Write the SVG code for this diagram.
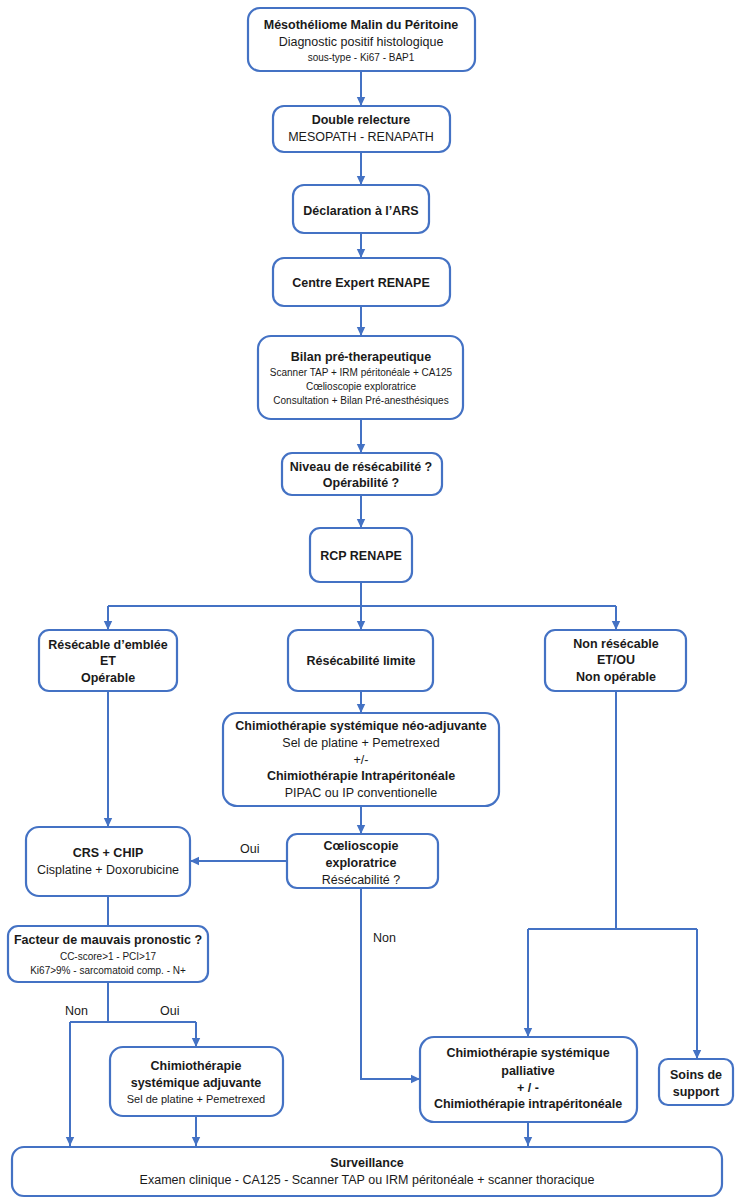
<svg xmlns="http://www.w3.org/2000/svg" width="740" height="1200" viewBox="0 0 740 1200">
<style>
.box{fill:#ffffff;stroke:#4472C4;stroke-width:2.2}
.c{fill:none;stroke:#4472C4;stroke-width:2}
.a{marker-end:url(#arr)}
text{font-family:"Liberation Sans",Arial,sans-serif;fill:#1a1a1a;text-anchor:middle;dominant-baseline:central}
.b{font-size:12.5px;font-weight:bold}
.r{font-size:12.5px}
.s{font-size:10px}
.m{font-size:11px}
.l{font-size:12.5px;text-anchor:start}
</style>
<defs>
<marker id="arr" markerWidth="10" markerHeight="10" refX="9" refY="5" orient="auto" markerUnits="userSpaceOnUse">
<path d="M0,0.8 L9,5 L0,9.2 Z" fill="#4472C4"/>
</marker>
</defs>
<rect width="740" height="1200" fill="#ffffff"/>

<g id="connectors">
<path class="c a" d="M361,71 V106"/>
<path class="c a" d="M361,152 V185"/>
<path class="c a" d="M361,233 V258"/>
<path class="c a" d="M361,306 V336"/>
<path class="c a" d="M361,419 V453"/>
<path class="c a" d="M361,495 V528"/>
<path class="c a" d="M361,582 V630"/>
<path class="c" d="M108,606 H616"/>
<path class="c a" d="M108,606 V630"/>
<path class="c a" d="M616,606 V630"/>
<path class="c a" d="M108,691 V827"/>
<path class="c a" d="M361,691 V713"/>
<path class="c a" d="M361,806 V834"/>
<path class="c a" d="M287,861 H190"/>
<path class="c" d="M108,896 V926"/>
<path class="c" d="M108,982 V1022"/>
<path class="c" d="M70,1022 H196"/>
<path class="c a" d="M70,1022 V1146"/>
<path class="c a" d="M196,1022 V1047"/>
<path class="c a" d="M196,1116 V1146"/>
<path class="c a" d="M361,888 V1079 H420"/>
<path class="c" d="M616,691 V929"/>
<path class="c" d="M528,929 H697"/>
<path class="c a" d="M528,929 V1037"/>
<path class="c a" d="M697,929 V1059"/>
<path class="c a" d="M528,1122 V1146"/>
<text class="l" x="240" y="849">Oui</text>
<text class="l" x="65" y="1011">Non</text>
<text class="l" x="160" y="1011">Oui</text>
<text class="l" x="373" y="938">Non</text>
</g>

<g id="n1">
<rect class="box" x="248" y="8" width="227" height="63" rx="12"/>
<text class="b" x="361" y="25">Mésothéliome Malin du Péritoine</text>
<text class="r" x="361" y="42">Diagnostic positif histologique</text>
<text class="s" x="361" y="57">sous-type - Ki67 - BAP1</text>
</g>
<g id="n2">
<rect class="box" x="273" y="106" width="177" height="46" rx="11"/>
<text class="b" x="361" y="120">Double relecture</text>
<text class="r" x="361" y="137">MESOPATH - RENAPATH</text>
</g>
<g id="n3">
<rect class="box" x="293" y="185" width="136" height="48" rx="11"/>
<text class="b" x="361" y="211">Déclaration à l’ARS</text>
</g>
<g id="n4">
<rect class="box" x="273" y="258" width="177" height="48" rx="11"/>
<text class="b" x="361" y="283">Centre Expert RENAPE</text>
</g>
<g id="n5">
<rect class="box" x="258" y="336" width="205" height="83" rx="13"/>
<text class="b" x="361" y="357">Bilan pré-therapeutique</text>
<text class="s" x="361" y="372">Scanner TAP + IRM péritonéale + CA125</text>
<text class="s" x="361" y="386">Cœlioscopie exploratrice</text>
<text class="s" x="361" y="400">Consultation + Bilan Pré-anesthésiques</text>
</g>
<g id="n6">
<rect class="box" x="282" y="453" width="160" height="42" rx="10"/>
<text class="b" x="361" y="467">Niveau de résécabilité ?</text>
<text class="b" x="361" y="483">Opérabilité ?</text>
</g>
<g id="n7">
<rect class="box" x="310" y="528" width="102" height="54" rx="10"/>
<text class="b" x="361" y="556">RCP RENAPE</text>
</g>
<g id="n8">
<rect class="box" x="39" y="630" width="138" height="61" rx="10"/>
<text class="b" x="108" y="645">Résécable d’emblée</text>
<text class="b" x="108" y="661">ET</text>
<text class="b" x="108" y="678">Opérable</text>
</g>
<g id="n9">
<rect class="box" x="288" y="630" width="145" height="61" rx="10"/>
<text class="b" x="361" y="661">Résécabilité limite</text>
</g>
<g id="n10">
<rect class="box" x="545" y="630" width="141" height="61" rx="10"/>
<text class="b" x="616" y="644">Non résécable</text>
<text class="b" x="616" y="660">ET/OU</text>
<text class="b" x="616" y="677">Non opérable</text>
</g>
<g id="n11">
<rect class="box" x="223" y="713" width="276" height="93" rx="14"/>
<text class="b" x="361" y="726">Chimiothérapie systémique néo-adjuvante</text>
<text class="r" x="361" y="743">Sel de platine + Pemetrexed</text>
<text class="r" x="361" y="760">+/-</text>
<text class="b" x="361" y="776">Chimiothérapie Intrapéritonéale</text>
<text class="r" x="361" y="793">PIPAC ou IP conventionelle</text>
</g>
<g id="n12">
<rect class="box" x="287" y="834" width="151" height="54" rx="10"/>
<text class="b" x="361" y="846">Cœlioscopie</text>
<text class="b" x="361" y="863">exploratrice</text>
<text class="r" x="361" y="880">Résécabilité ?</text>
</g>
<g id="n13">
<rect class="box" x="26" y="827" width="164" height="69" rx="13"/>
<text class="b" x="108" y="853">CRS + CHIP</text>
<text class="r" x="108" y="870">Cisplatine + Doxorubicine</text>
</g>
<g id="n14">
<rect class="box" x="8" y="926" width="200" height="56" rx="10"/>
<text class="b" x="108" y="940">Facteur de mauvais pronostic ?</text>
<text class="s" x="108" y="956">CC-score&gt;1 - PCI&gt;17</text>
<text class="s" x="108" y="970">Ki67&gt;9% - sarcomatoid comp. - N+</text>
</g>
<g id="n15">
<rect class="box" x="110" y="1047" width="173" height="69" rx="13"/>
<text class="b" x="196" y="1066">Chimiothérapie</text>
<text class="b" x="196" y="1083">systémique adjuvante</text>
<text class="m" x="196" y="1099">Sel de platine + Pemetrexed</text>
</g>
<g id="n16">
<rect class="box" x="420" y="1037" width="217" height="85" rx="14"/>
<text class="b" x="528" y="1053">Chimiothérapie systémique</text>
<text class="b" x="528" y="1071">palliative</text>
<text class="b" x="528" y="1088">+ / -</text>
<text class="b" x="528" y="1104">Chimiothérapie intrapéritonéale</text>
</g>
<g id="n17">
<rect class="box" x="659" y="1059" width="74" height="46" rx="9"/>
<text class="b" x="696" y="1075">Soins de</text>
<text class="b" x="696" y="1092">support</text>
</g>
<g id="n18">
<rect class="box" x="12" y="1147" width="710" height="49" rx="12"/>
<text class="b" x="367" y="1163">Surveillance</text>
<text class="r" x="367" y="1180">Examen clinique - CA125 - Scanner TAP ou IRM péritonéale + scanner thoracique</text>
</g>
</svg>
